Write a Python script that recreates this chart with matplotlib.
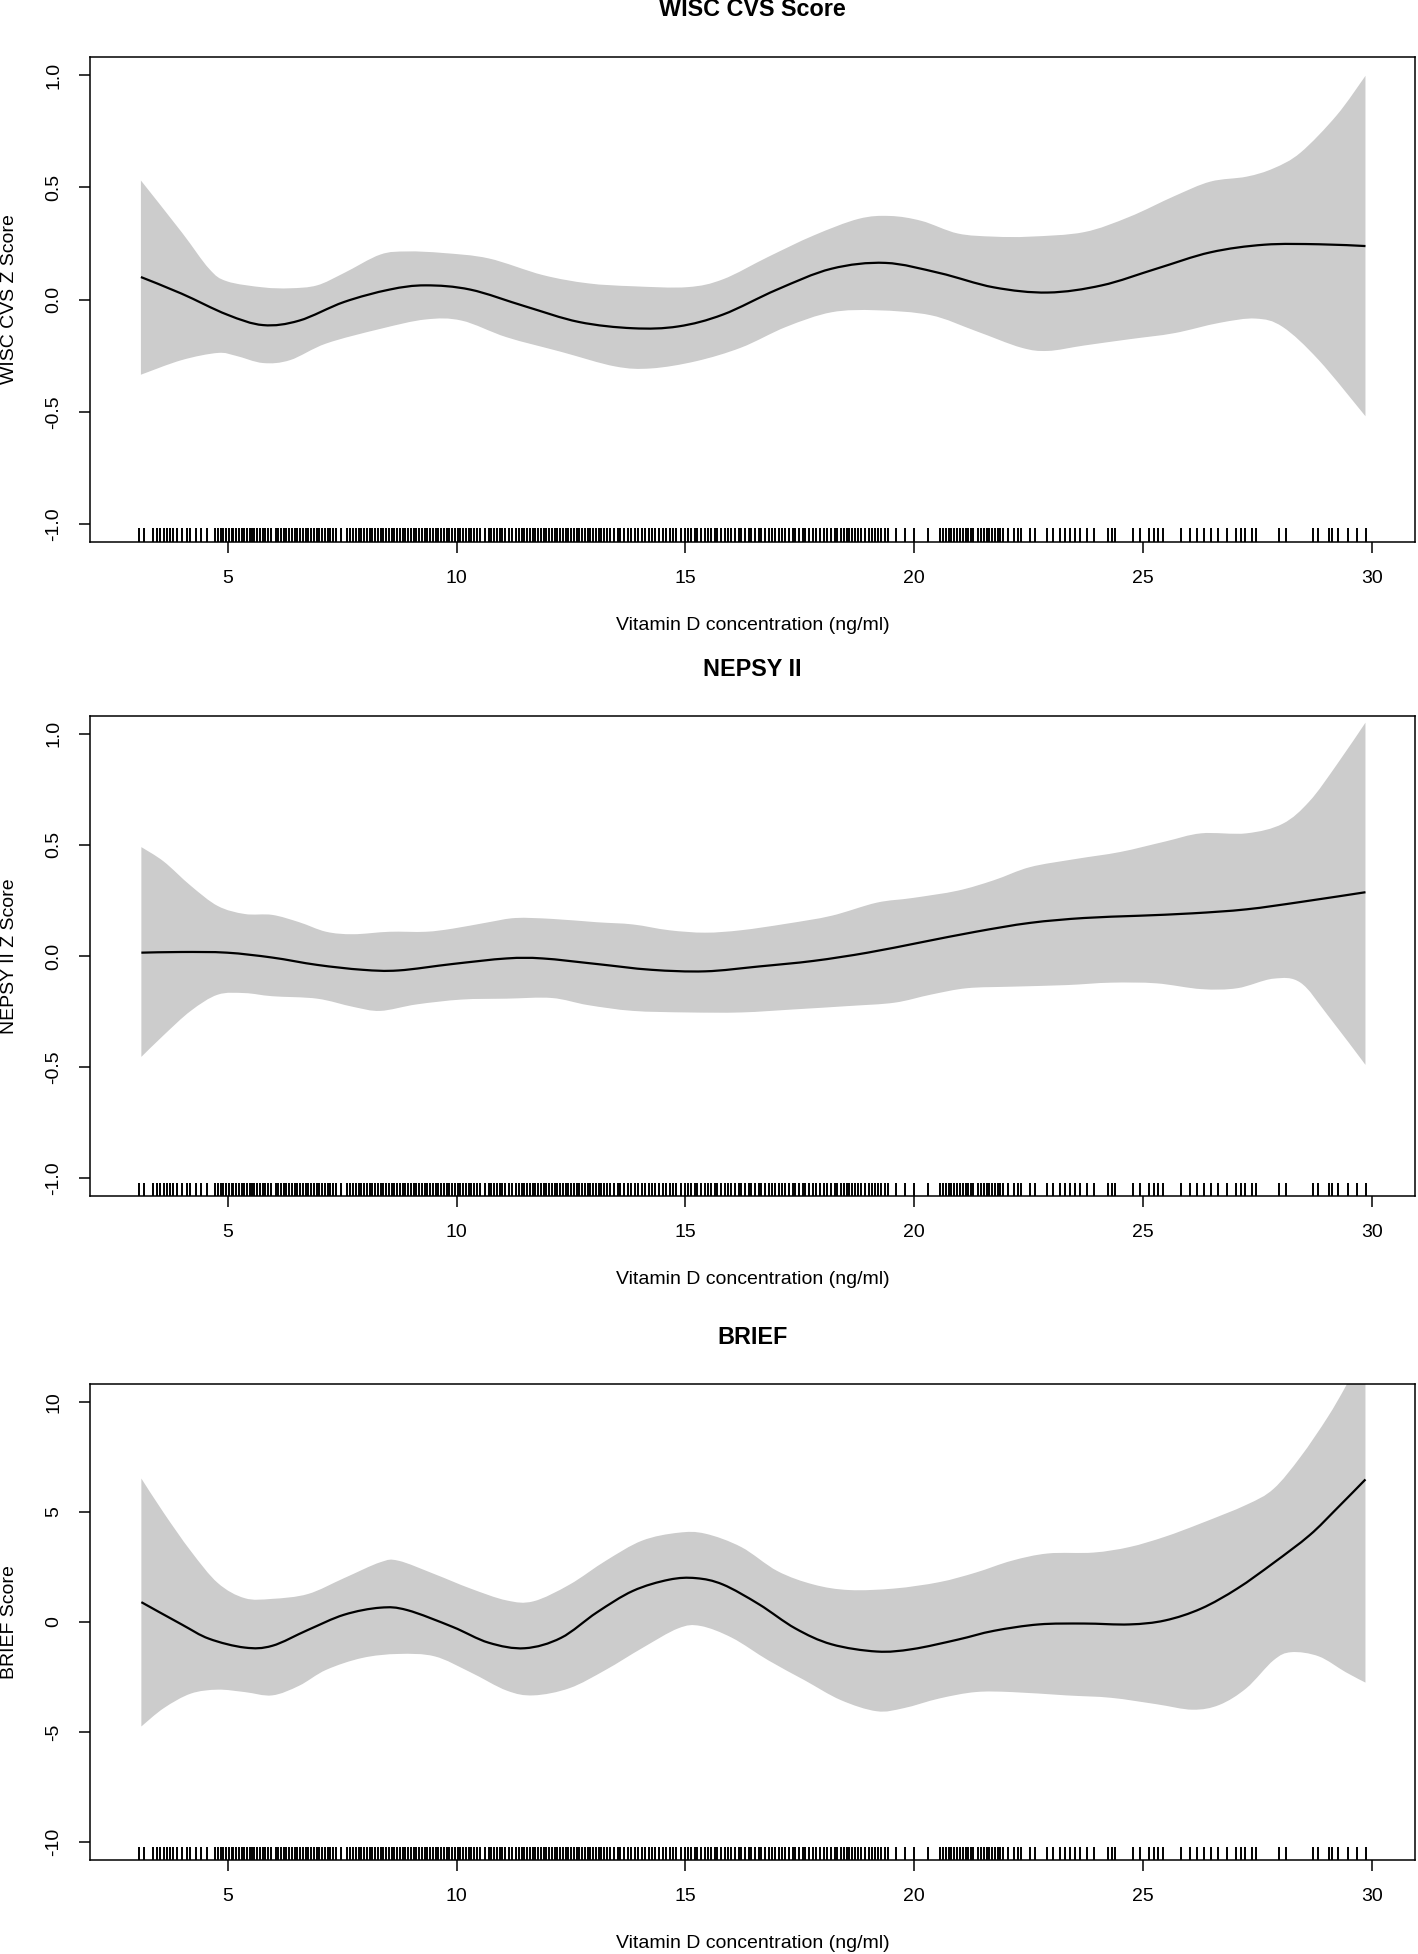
"""
Smooth fits (with confidence bands) of three cognitive scores against
vitamin D concentration, one panel per score, rug of observations below.
"""

import numpy as np
import matplotlib.pyplot as plt
from matplotlib.path import Path
from matplotlib.patches import PathPatch

plt.rc('font', family = 'Liberation Sans')
plt.rc('axes', unicode_minus = False)

# observed vitamin D values (rug), same sample in every panel
rug_x = [
    3.06, 3.16, 3.37, 3.45, 3.52, 3.60, 3.66, 3.74, 3.80, 3.88, 4.00, 4.10,
    4.18, 4.30, 4.42, 4.55, 4.72, 4.78, 4.84, 4.90, 4.96,
    5.02, 5.08, 5.12, 5.18, 5.24, 5.30, 5.36, 5.42, 5.48, 5.52, 5.58, 5.64,
    5.70, 5.76, 5.82, 5.88, 5.94,
    6.05, 6.10, 6.16, 6.22, 6.28, 6.34, 6.40, 6.46, 6.52, 6.58, 6.64, 6.70,
    6.76, 6.82, 6.88, 6.94,
    7.00, 7.06, 7.12, 7.18, 7.24, 7.30, 7.36, 7.48, 7.60, 7.66, 7.74, 7.80,
    7.86, 7.92, 7.98,
    8.04, 8.10, 8.16, 8.22, 8.28, 8.34, 8.40, 8.46, 8.52, 8.58, 8.64, 8.70,
    8.76, 8.82, 8.88, 8.94,
    9.00, 9.06, 9.12, 9.18, 9.24, 9.30, 9.36, 9.42, 9.48, 9.54, 9.60, 9.66,
    9.72, 9.78, 9.84, 9.90, 9.96,
    10.02, 10.08, 10.14, 10.20, 10.26, 10.32, 10.38, 10.44, 10.50, 10.62,
    10.70, 10.76, 10.82, 10.88, 10.94,
    11.00, 11.06, 11.14, 11.22, 11.30, 11.36, 11.42, 11.48, 11.54, 11.60,
    11.66, 11.72, 11.78, 11.84, 11.90, 11.96,
    12.02, 12.08, 12.14, 12.20, 12.26, 12.32, 12.38, 12.44, 12.50, 12.56,
    12.62, 12.68, 12.74, 12.80, 12.86, 12.92, 12.98,
    13.04, 13.10, 13.16, 13.22, 13.28, 13.36, 13.44, 13.52, 13.58, 13.66,
    13.74, 13.82, 13.90, 13.96,
    14.04, 14.12, 14.20, 14.26, 14.34, 14.42, 14.50, 14.58, 14.66, 14.72,
    14.80, 14.90, 14.98,
    15.06, 15.12, 15.20, 15.26, 15.34, 15.42, 15.50, 15.56, 15.64, 15.70,
    15.78, 15.86, 15.94,
    16.00, 16.08, 16.16, 16.22, 16.30, 16.38, 16.44, 16.52, 16.60, 16.66,
    16.74, 16.82, 16.90, 16.96,
    17.04, 17.12, 17.18, 17.26, 17.34, 17.40, 17.48, 17.56, 17.62, 17.70,
    17.78, 17.86, 17.94,
    18.02, 18.10, 18.18, 18.26, 18.32, 18.40, 18.46, 18.52, 18.58, 18.64,
    18.70, 18.76, 18.84, 18.92, 19.00, 19.08, 19.14, 19.20, 19.28, 19.36,
    19.42,
    19.59, 19.79, 19.99, 20.29, 20.57, 20.63, 20.69, 20.75, 20.81, 20.87,
    20.93, 20.99, 21.06, 21.12, 21.18, 21.24, 21.29, 21.40, 21.46, 21.52,
    21.58, 21.64, 21.70, 21.76, 21.82, 21.88, 21.94, 22.04, 22.19, 22.26,
    22.33, 22.52, 22.64, 22.89, 23.03, 23.18, 23.29, 23.40, 23.51, 23.63,
    23.78, 23.93, 24.23, 24.33, 24.38, 24.78, 24.93, 25.13, 25.23, 25.33,
    25.43, 25.83, 26.03, 26.18, 26.33, 26.48, 26.63, 26.83, 27.03, 27.13,
    27.23, 27.37, 27.47, 27.97, 28.12, 28.72, 28.82, 29.07, 29.12, 29.27,
    29.47, 29.67, 29.87,
]

# --- WISC CVS ---
wisc_fit_x = [3.1, 3.99, 4.98, 5.77, 6.56, 7.54, 8.53, 9.32, 10.3, 11.49,
    12.67, 13.85, 14.84, 15.82, 17.0, 18.19, 19.37, 20.55, 21.74, 22.92,
    24.1, 25.29, 26.47, 27.65, 28.84, 29.86]
wisc_fit_y = [0.10, 0.026, -0.067, -0.114, -0.094, -0.011, 0.044, 0.063,
    0.044, -0.03, -0.10, -0.128, -0.12, -0.067, 0.044, 0.137, 0.163, 0.118,
    0.054, 0.031, 0.063, 0.137, 0.21, 0.244, 0.246, 0.238]
wisc_up_x = [3.1, 3.99, 4.59, 4.98, 5.77, 6.36, 6.95, 7.54, 8.33, 8.92,
    9.71, 10.7, 11.88, 12.87, 13.85, 15.04, 15.82, 16.81, 17.8, 18.78,
    19.47, 20.16, 20.95, 21.74, 22.53, 23.71, 24.7, 25.68, 26.47, 27.26,
    27.85, 28.44, 29.23, 29.86]
wisc_up_y = [0.53, 0.30, 0.137, 0.081, 0.054, 0.05, 0.063, 0.118, 0.20,
    0.214, 0.207, 0.183, 0.109, 0.072, 0.059, 0.055, 0.09, 0.19, 0.285,
    0.359, 0.372, 0.35, 0.294, 0.28, 0.28, 0.30, 0.368, 0.46, 0.525, 0.547,
    0.584, 0.654, 0.82, 0.996]
wisc_lo_x = [3.1, 3.99, 4.78, 5.18, 5.77, 6.36, 7.15, 8.33, 9.32, 10.11,
    11.09, 12.28, 13.46, 14.25, 15.23, 16.22, 17.2, 18.19, 19.18, 20.36,
    21.34, 22.33, 22.92, 23.71, 24.7, 25.68, 26.67, 27.46, 28.05, 28.84,
    29.86]
wisc_lo_y = [-0.335, -0.27, -0.238, -0.251, -0.283, -0.27, -0.196, -0.131,
    -0.089, -0.094, -0.168, -0.233, -0.298, -0.307, -0.275, -0.214, -0.122,
    -0.057, -0.048, -0.07, -0.14, -0.214, -0.229, -0.205, -0.177, -0.15,
    -0.104, -0.085, -0.122, -0.27, -0.52]

# --- NEPSY II ---
nepsy_fit_x = [3.11, 3.99, 4.98, 5.97, 6.95, 7.94, 8.73, 9.91, 11.09, 11.88,
    13.06, 14.25, 15.43, 16.61, 17.8, 18.98, 20.16, 21.34, 22.53, 23.71,
    24.89, 26.08, 27.26, 28.44, 29.86]
nepsy_fit_y = [0.015, 0.018, 0.015, -0.007, -0.04, -0.062, -0.065, -0.036,
    -0.011, -0.011, -0.036, -0.062, -0.069, -0.047, -0.022, 0.015, 0.062,
    0.109, 0.149, 0.171, 0.181, 0.192, 0.21, 0.243, 0.287]
nepsy_up_x = [3.11, 3.6, 4.19, 4.78, 5.37, 5.97, 6.56, 7.15, 7.74, 8.53,
    9.32, 9.91, 10.7, 11.29, 12.08, 13.06, 13.85, 14.64, 15.43, 16.22, 17.2,
    18.19, 19.18, 19.96, 20.95, 21.74, 22.53, 23.51, 24.5, 25.48, 26.27,
    27.26, 28.05, 28.64, 29.23, 29.86]
nepsy_up_y = [0.49, 0.425, 0.316, 0.225, 0.189, 0.185, 0.152, 0.109, 0.098,
    0.109, 0.109, 0.123, 0.152, 0.171, 0.167, 0.152, 0.142, 0.116, 0.105,
    0.116, 0.145, 0.181, 0.24, 0.261, 0.294, 0.341, 0.40, 0.436, 0.468,
    0.515, 0.552, 0.552, 0.595, 0.697, 0.86, 1.05]
nepsy_lo_x = [3.11, 3.6, 4.19, 4.78, 5.37, 5.97, 6.95, 7.74, 8.33, 9.12,
    10.11, 11.09, 12.08, 12.87, 13.85, 15.04, 16.22, 17.4, 18.58, 19.57,
    20.36, 21.15, 22.13, 23.32, 24.3, 25.29, 26.27, 27.06, 27.85, 28.44,
    29.03, 29.86]
nepsy_lo_y = [-0.454, -0.356, -0.247, -0.174, -0.167, -0.181, -0.192,
    -0.229, -0.247, -0.218, -0.196, -0.192, -0.189, -0.221, -0.247, -0.254,
    -0.254, -0.24, -0.225, -0.21, -0.174, -0.145, -0.138, -0.131, -0.12,
    -0.123, -0.149, -0.145, -0.102, -0.12, -0.265, -0.49]

# --- BRIEF ---
brief_fit_x = [3.11, 3.99, 4.59, 5.37, 5.97, 6.75, 7.54, 8.33, 8.92, 9.91,
    10.7, 11.49, 12.28, 13.06, 13.85, 14.64, 15.23, 15.82, 16.61, 17.4,
    18.19, 19.18, 19.96, 20.95, 21.74, 22.72, 23.71, 24.7, 25.48, 26.27,
    27.06, 27.85, 28.64, 29.23, 29.86]
brief_fit_y = [0.90, -0.11, -0.76, -1.16, -1.08, -0.36, 0.33, 0.65, 0.54,
    -0.22, -0.94, -1.19, -0.72, 0.43, 1.41, 1.92, 1.99, 1.70, 0.80, -0.29,
    -1.01, -1.34, -1.23, -0.80, -0.40, -0.11, -0.07, -0.11, 0.07, 0.61,
    1.52, 2.68, 3.94, 5.14, 6.47]
brief_up_x = [3.11, 3.6, 4.19, 4.78, 5.37, 5.97, 6.75, 7.54, 8.33, 8.73,
    9.52, 10.3, 11.09, 11.68, 12.47, 13.26, 14.05, 14.84, 15.43, 16.22,
    17.01, 17.8, 18.58, 19.57, 20.55, 21.34, 22.13, 22.92, 23.91, 24.7,
    25.48, 26.27, 27.26, 27.85, 28.44, 29.03, 29.43, 29.86]
brief_up_y = [6.51, 4.95, 3.22, 1.77, 1.08, 1.05, 1.27, 1.99, 2.71, 2.78,
    2.17, 1.52, 0.98, 0.94, 1.70, 2.78, 3.69, 4.05, 4.01, 3.40, 2.31, 1.70,
    1.45, 1.52, 1.81, 2.24, 2.78, 3.11, 3.15, 3.40, 3.87, 4.48, 5.32, 6.04,
    7.49, 9.28, 10.7, 12.4]
brief_lo_x = [3.11, 3.6, 4.19, 4.78, 5.37, 5.97, 6.56, 7.15, 7.94, 8.73,
    9.52, 10.3, 11.09, 11.68, 12.47, 13.26, 14.05, 14.84, 15.33, 16.02,
    16.81, 17.6, 18.39, 19.18, 19.77, 20.55, 21.34, 22.13, 23.32, 24.3,
    25.29, 26.08, 26.67, 27.26, 27.85, 28.24, 28.84, 29.43, 29.86]
brief_lo_y = [-4.74, -3.91, -3.25, -3.07, -3.18, -3.33, -2.89, -2.17, -1.63,
    -1.45, -1.56, -2.28, -3.11, -3.33, -3.00, -2.17, -1.19, -0.29, -0.18,
    -0.72, -1.74, -2.64, -3.54, -4.05, -3.91, -3.47, -3.18, -3.18, -3.33,
    -3.44, -3.73, -3.98, -3.76, -3.00, -1.74, -1.37, -1.56, -2.28, -2.75]

panels = [
    ("WISC CVS Score", "WISC CVS Z Score", wisc_fit_x, wisc_fit_y,
        wisc_up_x, wisc_up_y, wisc_lo_x, wisc_lo_y,
        [-1.0, -0.5, 0.0, 0.5, 1.0], ["-1.0", "-0.5", "0.0", "0.5", "1.0"]),
    ("NEPSY II", "NEPSY II Z Score", nepsy_fit_x, nepsy_fit_y,
        nepsy_up_x, nepsy_up_y, nepsy_lo_x, nepsy_lo_y,
        [-1.0, -0.5, 0.0, 0.5, 1.0], ["-1.0", "-0.5", "0.0", "0.5", "1.0"]),
    ("BRIEF", "BRIEF Score", brief_fit_x, brief_fit_y,
        brief_up_x, brief_up_y, brief_lo_x, brief_lo_y,
        [-10, -5, 0, 5, 10], ["-10", "-5", "0", "5", "10"]),
]
x_ticks = [5, 10, 15, 20, 25, 30]


def smooth_path(x, y):
    """
    Vertices and codes of a Catmull-Rom curve through the given points,
    written as cubic Bezier segments (the curve passes through every point).
    """
    p = np.column_stack([x, y]).astype(float)
    ext = np.vstack([p[0], p, p[-1]])  # repeat ends
    verts = [p[0]]
    codes = [Path.MOVETO]
    for i in range(len(p) - 1):
        p0, p1, p2, p3 = ext[i], ext[i+1], ext[i+2], ext[i+3]
        verts += [p1 + (p2 - p0)/6, p2 - (p3 - p1)/6, p2]
        codes += [Path.CURVE4]*3
    return verts, codes


# figure layout in pixels (top, bottom of each plot box)
W, H = 1418, 1954
left, right = 90, 1415
boxes = [(57, 542), (716, 1196), (1384, 1860)]

fig = plt.figure(figsize = (W/100, H/100), dpi = 100)

xmin, xmax = min(rug_x), max(rug_x)
xpad = 0.04*(xmax - xmin)  # R style axis extension

for (title, ylab, fx, fy, ux, uy, lx, ly, yt, ytl), (top, bot) in zip(panels, boxes):
    ax = fig.add_axes([left/W, 1 - bot/H, (right - left)/W, (bot - top)/H])

    # confidence band: upper edge forward, lower edge backward, closed
    uv, uc = smooth_path(ux, uy)
    lv, lc = smooth_path(lx[::-1], ly[::-1])
    lc[0] = Path.LINETO
    band = Path(uv + lv + [uv[0]], uc + lc + [Path.CLOSEPOLY])
    ax.add_patch(PathPatch(band, facecolor = '#cccccc', edgecolor = 'none',
        zorder = 1))

    # fitted curve
    fv, fc = smooth_path(fx, fy)
    ax.add_patch(PathPatch(Path(fv, fc), facecolor = 'none',
        edgecolor = 'black', lw = 1.6, zorder = 2))

    # rug along the bottom
    ax.vlines(rug_x, 0, 0.028, transform = ax.get_xaxis_transform(),
        color = 'black', lw = 1.4, zorder = 3)

    ax.set_xlim(xmin - xpad, xmax + xpad)
    lim = max(yt)*1.08
    ax.set_ylim(-lim, lim)
    ax.set_xticks(x_ticks)
    ax.set_yticks(yt)
    ax.set_yticklabels(ytl, rotation = 90, va = 'center')

    ax.tick_params(direction = 'out', length = 8, width = 1.1, labelsize = 14,
        pad = 12)
    for s in ax.spines.values():
        s.set_linewidth(1.1)

    ax.set_xlabel("Vitamin D concentration (ng/ml)", fontsize = 14,
        labelpad = 22)
    fig.text(10/W, 1 - (top + bot)/2/H, ylab, rotation = 90, fontsize = 14,
        ha = 'center', va = 'center')
    fig.text((left + right)/2/W, 1 - (top - 47)/H, title, fontsize = 16.8,
        fontweight = 'bold', ha = 'center', va = 'center')

plt.savefig("out.png", dpi = 100)
